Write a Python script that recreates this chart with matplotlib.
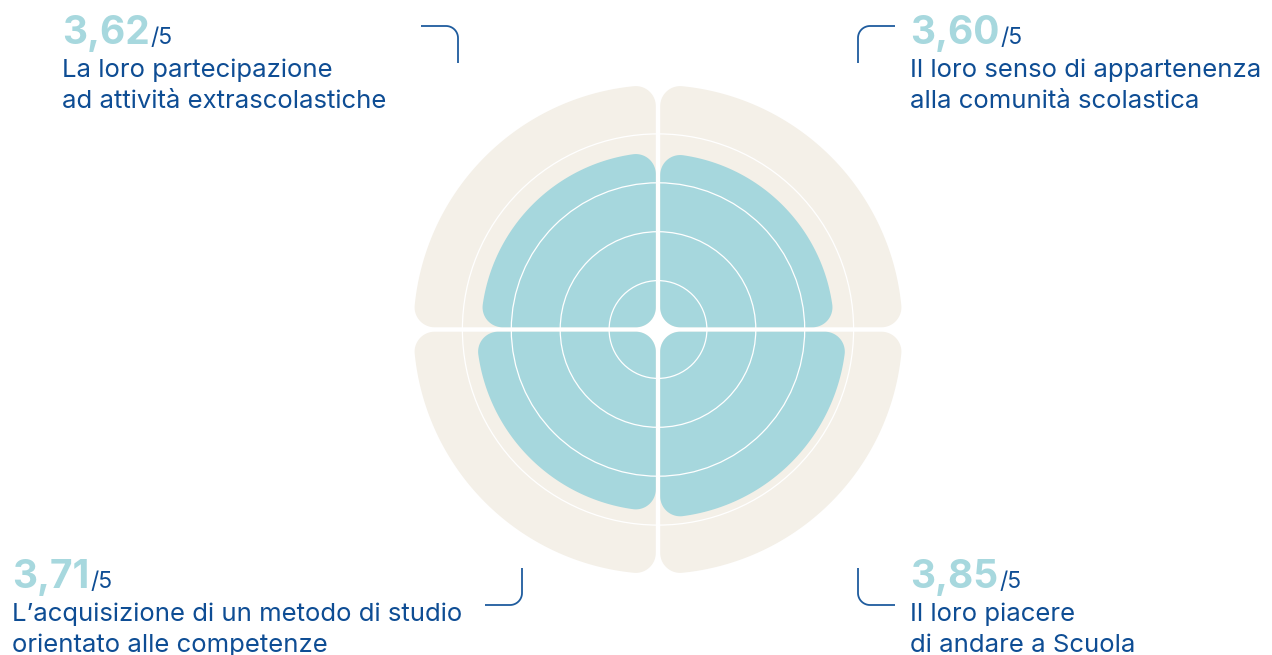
import numpy as np
import matplotlib
matplotlib.use("Agg")
import matplotlib.pyplot as plt
from matplotlib.patches import Polygon, Circle

plt.rcParams['font.family'] = ['Inter', 'DejaVu Sans']

# data
scores = [3.62, 3.60, 3.71, 3.85]          # TL, TR, BL, BR
score_max = 5
labels = ["La loro partecipazione\nad attività extrascolastiche",
          "Il loro senso di appartenenza\nalla comunità scolastica",
          "L\u2019acquisizione di un metodo di studio\norientato alle competenze",
          "Il loro piacere\ndi andare a Scuola"]
grid_rings = [1, 2, 3, 4]

BEIGE = '#f4f0e8'
BLUE = '#a6d7dd'
NUM = '#a7d8de'
DARK = '#0e4d94'
LINE = '#1f5c9e'

W, H = 1272, 655
cx, cy = 658, 329.5      # chart centre in pixels
u = 48.9                 # pixels per score unit

fig = plt.figure(figsize=(W / 100, H / 100), dpi=100)
ax = fig.add_axes([0, 0, 1, 1])
ax.set_xlim(-cx / u, (W - cx) / u)
ax.set_ylim(-(H - cy) / u, cy / u)
ax.axis('off')


def rounded_quadrant(R, g, c, sx, sy, n=40):
    # quarter disc of radius R, kept g away from both axes, corners rounded by c
    a = g + c
    rr = R - c
    xb = np.sqrt(rr ** 2 - a ** 2)
    t1 = np.arctan2(a, xb)
    t2 = np.pi / 2 - t1
    pts = [(a, g), (xb, g)]
    th = np.linspace(-np.pi / 2, t1, n)
    pts += list(zip(xb + c * np.cos(th), a + c * np.sin(th)))
    th = np.linspace(t1, t2, 4 * n)
    pts += list(zip(R * np.cos(th), R * np.sin(th)))
    th = np.linspace(t2, np.pi, n)
    pts += list(zip(a + c * np.cos(th), xb + c * np.sin(th)))
    pts += [(g, a)]
    th = np.linspace(np.pi, 1.5 * np.pi, n)
    pts += list(zip(a + c * np.cos(th), a + c * np.sin(th)))
    pts = np.array(pts)
    pts[:, 0] *= sx
    pts[:, 1] *= sy
    return pts


signs = [(-1, 1), (1, 1), (-1, -1), (1, -1)]
g = 2.2 / u
c = 20 / u
for (sx, sy), s in zip(signs, scores):
    ax.add_patch(Polygon(rounded_quadrant(score_max, g, c, sx, sy), closed=True,
                         fc=BEIGE, ec='none', zorder=1))
    ax.add_patch(Polygon(rounded_quadrant(s, g, c, sx, sy), closed=True,
                         fc=BLUE, ec='none', zorder=2))

for r in grid_rings:
    ax.add_patch(Circle((0, 0), r, fill=False, ec='white', lw=0.9, zorder=3))

# annotation layer in pixel coordinates
lay = fig.add_axes([0, 0, 1, 1])
lay.set_xlim(0, W)
lay.set_ylim(H, 0)
lay.axis('off')
lay.patch.set_alpha(0)

text_pos = [(62, 44), (910, 44), (12, 588), (910, 588)]
fig.canvas.draw()
renderer = fig.canvas.get_renderer()
inv = lay.transData.inverted()
for (x, y), s, lab in zip(text_pos, scores, labels):
    num = lay.text(x, y, f"{s:.2f}".replace('.', ','), fontsize=28,
                   fontweight='bold', color=NUM, ha='left', va='baseline')
    bb = num.get_window_extent(renderer=renderer)
    x2 = inv.transform((bb.x1, bb.y0))[0] + 1
    lay.text(x2, y, "/5", fontsize=16.5, color=DARK, ha='left', va='baseline')
    for i, line in enumerate(lab.split('\n')):
        lay.text(x, y + 33 + i * 31, line, fontsize=18.5, color=DARK,
                 ha='left', va='baseline')


def connector(x0, y0, x1, y1, corner, horiz_first, rc=12, n=20):
    # L-shaped line with a rounded corner
    kx, ky = corner
    if horiz_first:
        dx = np.sign(x0 - kx)
        dy = np.sign(y1 - ky)
        ccx, ccy = kx + dx * rc, ky + dy * rc
        pts = [(x0, y0), (ccx, ky)]
        a_start = np.arctan2(ky - ccy, 0)
        a_end = np.arctan2(0, kx - ccx)
    else:
        dy = np.sign(y0 - ky)
        dx = np.sign(x1 - kx)
        ccx, ccy = kx + dx * rc, ky + dy * rc
        pts = [(x0, y0), (kx, ccy)]
        a_start = np.arctan2(0, kx - ccx)
        a_end = np.arctan2(ky - ccy, 0)
    d = (a_end - a_start + np.pi) % (2 * np.pi) - np.pi
    th = a_start + np.linspace(0, d, n)
    pts += list(zip(ccx + rc * np.cos(th), ccy + rc * np.sin(th)))
    pts += [(x1, y1)]
    pts = np.array(pts)
    lay.plot(pts[:, 0], pts[:, 1], color=LINE, lw=1.3, solid_capstyle='butt')


connector(421, 26, 458, 63, (458, 26), True)
connector(858, 63, 895, 26, (858, 26), False)
connector(485, 605, 522, 568, (522, 605), True)
connector(858, 568, 895, 605, (858, 605), False)

fig.savefig('out.png', dpi=100)
